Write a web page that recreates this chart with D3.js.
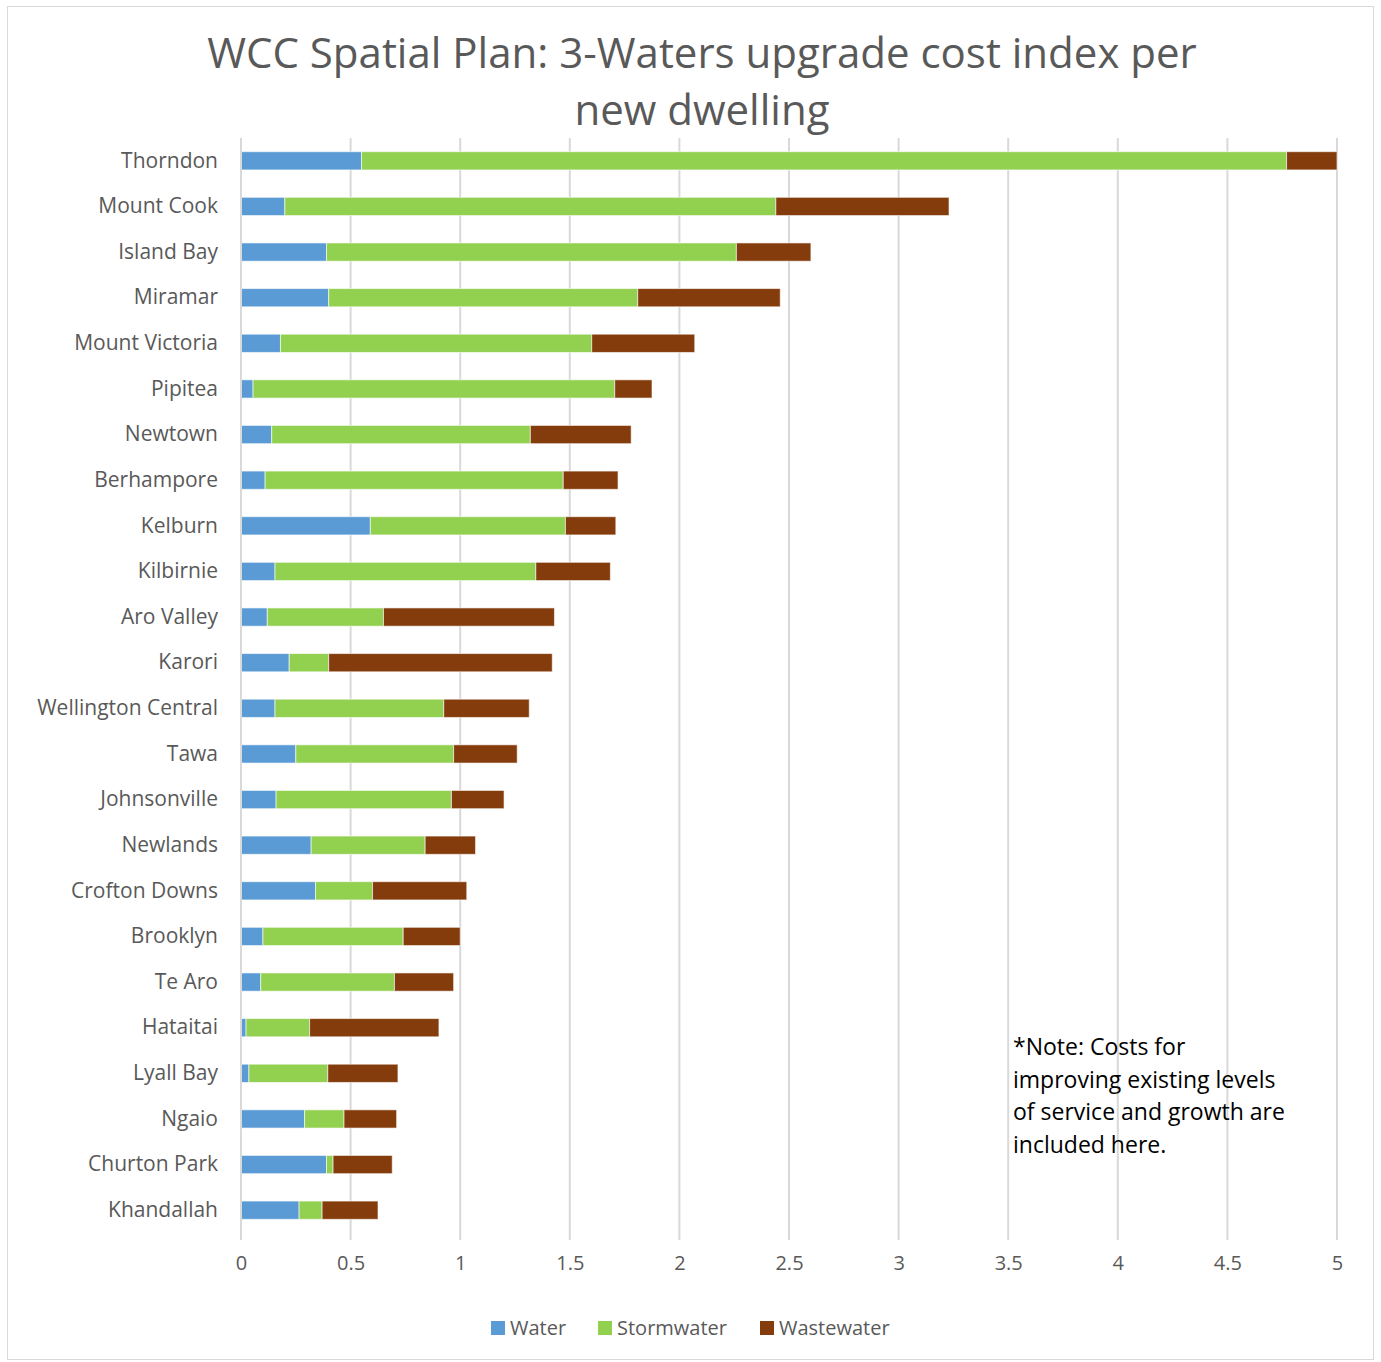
<!DOCTYPE html>
<html>
<head>
<meta charset="utf-8">
<script src="https://cdn.jsdelivr.net/npm/d3@7"></script>
<style>
  body { margin: 0; background: #fff; }
  svg text { font-family: "Open Sans", "Noto Sans", sans-serif; }
</style>
</head>
<body>
<svg id="chart" width="1381" height="1362"></svg>
<script>
// Suburbs, top to bottom
var suburbs = ['Thorndon', 'Mount Cook', 'Island Bay', 'Miramar', 'Mount Victoria',
  'Pipitea', 'Newtown', 'Berhampore', 'Kelburn', 'Kilbirnie', 'Aro Valley', 'Karori',
  'Wellington Central', 'Tawa', 'Johnsonville', 'Newlands', 'Crofton Downs', 'Brooklyn',
  'Te Aro', 'Hataitai', 'Lyall Bay', 'Ngaio', 'Churton Park', 'Khandallah'];

var water = [0.55, 0.20, 0.39, 0.40, 0.18, 0.055, 0.14, 0.11, 0.59, 0.155, 0.12, 0.22,
  0.155, 0.25, 0.16, 0.32, 0.34, 0.10, 0.09, 0.023, 0.036, 0.29, 0.39, 0.265];
var stormwater = [4.22, 2.24, 1.87, 1.41, 1.42, 1.65, 1.18, 1.36, 0.89, 1.19, 0.53, 0.18,
  0.77, 0.72, 0.80, 0.52, 0.26, 0.64, 0.61, 0.29, 0.36, 0.18, 0.03, 0.105];
var wastewater = [0.23, 0.79, 0.34, 0.65, 0.47, 0.17, 0.46, 0.25, 0.23, 0.34, 0.78, 1.02,
  0.39, 0.29, 0.24, 0.23, 0.43, 0.26, 0.27, 0.59, 0.32, 0.24, 0.27, 0.255];

var seriesNames = ['Water', 'Stormwater', 'Wastewater'];
var xTicks = [0, 0.5, 1, 1.5, 2, 2.5, 3, 3.5, 4, 4.5, 5];
var noteLines = ['*Note: Costs for', 'improving existing levels',
  'of service and growth are', 'included here.'];

var colors = {Water: '#5b9bd5', Stormwater: '#92d050', Wastewater: '#843c0c'};

var rows = suburbs.map(function(s, i) {
  return {suburb: s, Water: water[i], Stormwater: stormwater[i], Wastewater: wastewater[i]};
});

var svg = d3.select('#chart');

// chart border
svg.append('rect')
    .attr('x', 7.5).attr('y', 6.5)
    .attr('width', 1366).attr('height', 1353)
    .attr('fill', '#fff')
    .attr('stroke', '#d9d9d9');

// title
svg.append('text')
    .attr('x', 702).attr('text-anchor', 'middle')
    .attr('fill', '#595959')
    .style('font-size', '42px')
  .selectAll('tspan')
    .data(['WCC Spatial Plan: 3-Waters upgrade cost index per', 'new dwelling'])
  .enter().append('tspan')
    .attr('x', 702)
    .attr('y', function(d, i) { return 68 + i * 57; })
    .text(function(d) { return d; });

var x = d3.scaleLinear().domain([0, 5]).range([241, 1337]);
var y = d3.scaleBand().domain(suburbs).range([138, 1233]).paddingInner(0.6).paddingOuter(0.3);

// gridlines
svg.append('g')
  .selectAll('line')
    .data(xTicks)
  .enter().append('line')
    .attr('x1', function(d) { return x(d); })
    .attr('x2', function(d) { return x(d); })
    .attr('y1', 138).attr('y2', 1240)
    .attr('stroke', '#d9d9d9')
    .attr('stroke-width', 2);

// x tick labels
var xAxis = svg.append('g')
    .attr('transform', 'translate(0,1240)')
    .call(d3.axisBottom(x).tickValues(xTicks).tickSize(0).tickPadding(16)
      .tickFormat(function(d) { return String(d); }));
xAxis.select('.domain').remove();
xAxis.selectAll('text')
    .attr('fill', '#595959')
    .style('font-size', '20px');

// stacked bars
var stack = d3.stack().keys(seriesNames)(rows);
svg.append('g')
  .selectAll('g')
    .data(stack)
  .enter().append('g')
    .attr('fill', function(d) { return colors[d.key]; })
  .selectAll('rect')
    .data(function(d) { return d; })
  .enter().append('rect')
    .attr('x', function(d) { return x(d[0]); })
    .attr('y', function(d) { return y(d.data.suburb); })
    .attr('width', function(d) { return x(d[1]) - x(d[0]); })
    .attr('height', y.bandwidth())
    .attr('stroke', '#fff')
    .attr('stroke-opacity', 0.6)
    .attr('stroke-width', 1);

// category labels
var yAxis = svg.append('g')
    .attr('transform', 'translate(241,0)')
    .call(d3.axisLeft(y).tickSize(0).tickPadding(23));
yAxis.select('.domain').remove();
yAxis.selectAll('text')
    .attr('fill', '#595959')
    .style('font-size', '21px');

// y axis line
svg.append('line')
    .attr('x1', 241).attr('x2', 241)
    .attr('y1', 138).attr('y2', 1240)
    .attr('stroke', '#d9d9d9')
    .attr('stroke-width', 2);

// note
svg.append('g')
  .selectAll('text')
    .data(noteLines)
  .enter().append('text')
    .attr('x', 1013)
    .attr('y', function(d, i) { return 1055 + i * 32.5; })
    .attr('fill', '#000')
    .style('font-size', '23px')
    .text(function(d) { return d; });

// legend
var legendX = [491, 598, 760];
var legend = svg.append('g')
  .selectAll('g')
    .data(seriesNames)
  .enter().append('g')
    .attr('transform', function(d, i) { return 'translate(' + legendX[i] + ',1321)'; });
legend.append('rect')
    .attr('width', 14).attr('height', 14)
    .attr('fill', function(d) { return colors[d]; });
legend.append('text')
    .attr('x', 19).attr('y', 14)
    .attr('fill', '#595959')
    .style('font-size', '20px')
    .text(function(d) { return d; });
</script>
</body>
</html>
